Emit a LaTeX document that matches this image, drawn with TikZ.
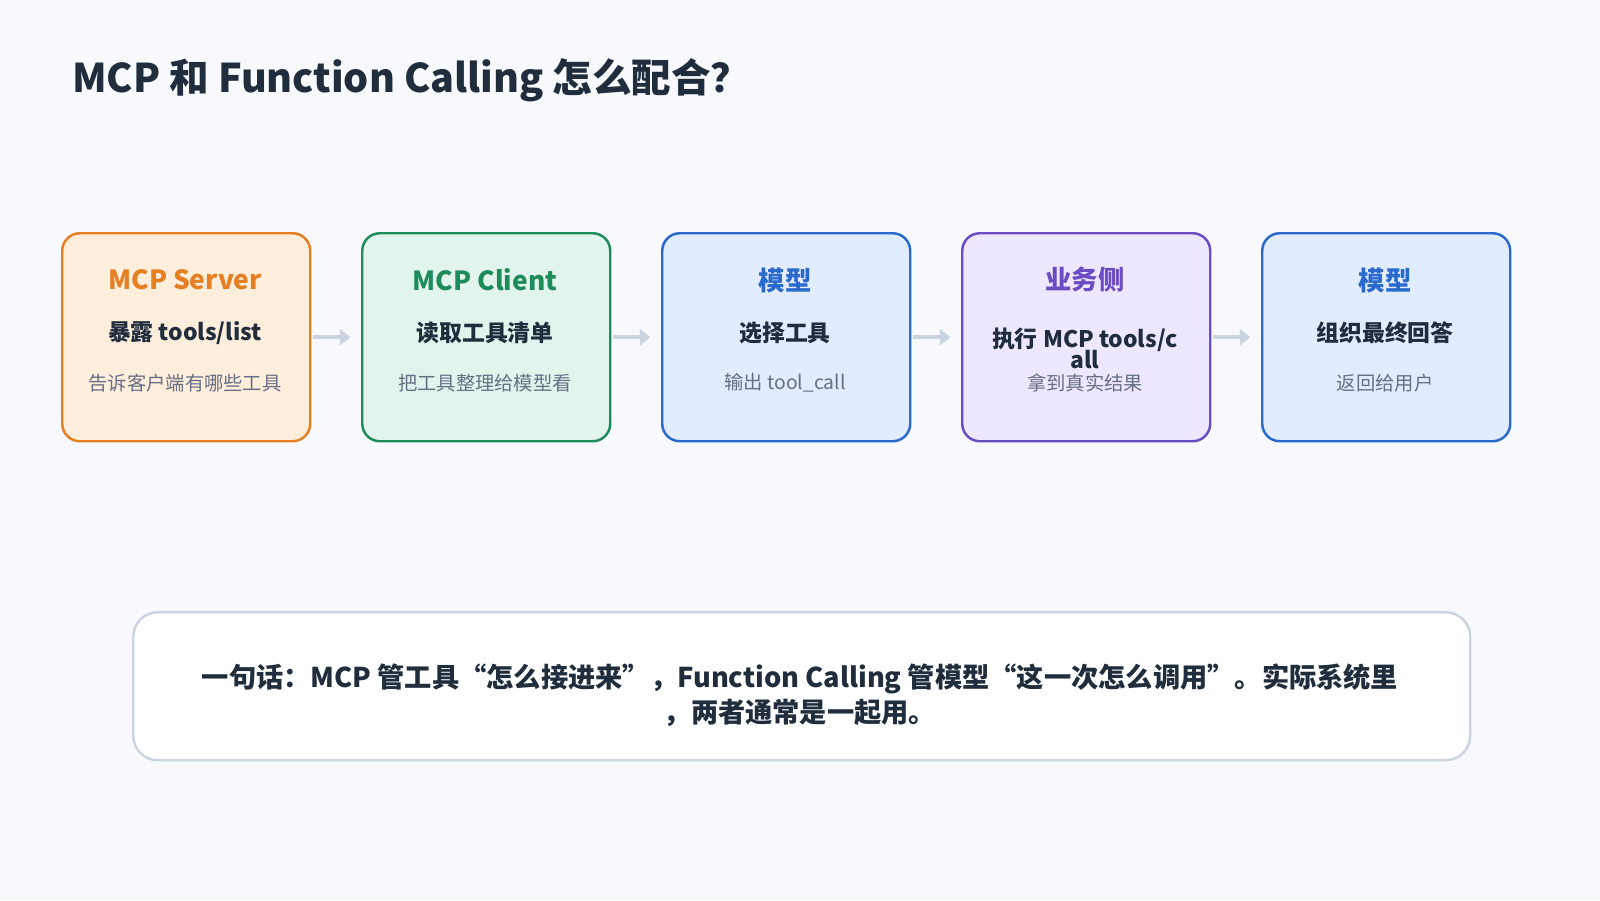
\documentclass[tikz,border=0pt]{standalone}
\usepackage{fontspec}
\setmainfont{Noto Sans CJK SC}
\usetikzlibrary{arrows.meta}
\definecolor{bg}{HTML}{F7F9FC}
\definecolor{ink}{HTML}{1F2D3D}
\definecolor{sub}{HTML}{667085}
\definecolor{arr}{HTML}{CBD5E1}
\definecolor{oB}{HTML}{E67E22}\definecolor{oF}{HTML}{FFEEDB}
\definecolor{gB}{HTML}{1E8C5A}\definecolor{gF}{HTML}{E2F5EC}
\definecolor{bB}{HTML}{2A6ACD}\definecolor{bF}{HTML}{E1ECFF}
\definecolor{pB}{HTML}{6B4CC2}\definecolor{pF}{HTML}{EDE7FF}
\begin{document}
\begin{tikzpicture}[x=0.02cm,y=-0.02cm,
 card/.style={draw=#1,line width=1.4pt,rounded corners=10pt,minimum width=248*0.02cm,minimum height=208*0.02cm,anchor=north west},
 hd/.style={font=\bfseries\fontsize{15}{18}\selectfont},
 md/.style={font=\bfseries\fontsize{13}{13}\selectfont,text=ink,align=center},
 sm/.style={font=\fontsize{11}{13}\selectfont,text=sub},
 ar/.style={arr,line width=2.2pt,-{Triangle[length=6pt,width=9pt]}}]
\fill[bg] (0,0) rectangle (1600,900);
\useasboundingbox (0,0) rectangle (1600,900);
\node[anchor=west,text=ink,font=\bfseries\fontsize{22.5}{27}\selectfont] (title) at (66,80) {MCP 和 Function Calling 怎么配合？};
\foreach \i/\b/\f/\h/\m/\s in {0/oB/oF/MCP Server/暴露 tools\slash list/告诉客户端有哪些工具,
 1/gB/gF/MCP Client/读取工具清单/把工具整理给模型看,
 2/bB/bF/模型/选择工具/输出 tool\_call,
 4/bB/bF/模型/组织最终回答/返回给用户}{
 \node[card=\b,fill=\f] (c\i) at (61+300*\i,232) {};
 \node[hd,text=\b] (h\i) at (185+300*\i,280) {\h};
 \node[md] (m\i) at (185+300*\i,333) {\m};
 \node[sm] (s\i) at (185+300*\i,383) {\s};
}
\node[card=pB,fill=pF] (c3) at (961,232) {};
\node[hd,text=pB] (h3) at (1085,280) {业务侧};
\node[md] (m3) at (1085,348) {执行 MCP tools/c\\[-1pt]all};
\node[sm] (s3) at (1085,383) {拿到真实结果};
\foreach \a/\c in {0/1,1/2,2/3,3/4}{\draw[ar] (c\a.east) ++(2,0) -- ([xshift=-6pt]c\c.west);}
\node[draw=arr,line width=1.4pt,fill=white,rounded corners=14pt,anchor=north west,minimum width=1337*0.02cm,minimum height=148*0.02cm] (box) at (132,611) {};
\node[text=ink,font=\bfseries\fontsize{15.5}{20}\selectfont,align=center] (note) at (800,695) {一句话：MCP 管工具“怎么接进来”，Function Calling 管模型“这一次怎么调用”。实际系统里\\，两者通常是一起用。};
\end{tikzpicture}
\end{document}
